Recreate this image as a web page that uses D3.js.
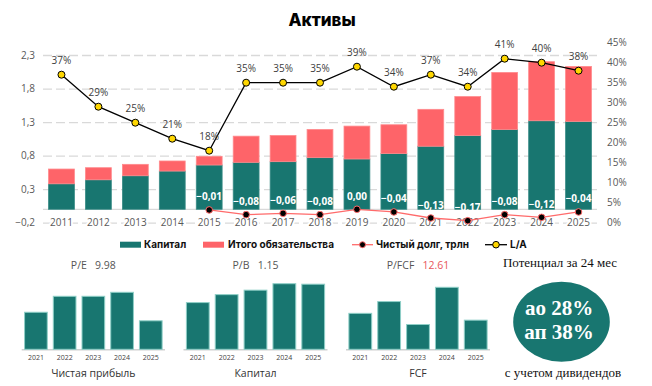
<!DOCTYPE html>
<html><head><meta charset="utf-8">
<script src="https://cdn.jsdelivr.net/npm/d3@7"></script>
<style>
body{margin:0;background:#fff;}
svg{display:block;}
</style></head>
<body>
<svg id="c" width="652" height="386"></svg>
<script>
// ---- data ----
const years = ["2011","2012","2013","2014","2015","2016","2017","2018","2019","2020","2021","2022","2023","2024","2025"];
const capital = [0.38,0.44,0.50,0.57,0.66,0.70,0.71,0.77,0.75,0.83,0.94,1.10,1.19,1.32,1.31];
const liabilities = [0.22,0.18,0.17,0.15,0.13,0.39,0.39,0.42,0.49,0.43,0.55,0.58,0.85,0.88,0.82];
const netDebtYears = ["2015","2016","2017","2018","2019","2020","2021","2022","2023","2024","2025"];
const netDebt = [-0.01,-0.08,-0.06,-0.08,0.00,-0.04,-0.13,-0.17,-0.08,-0.12,-0.04];
const la = [0.37,0.29,0.25,0.21,0.18,0.35,0.35,0.35,0.39,0.34,0.37,0.34,0.41,0.40,0.38];
const leftTicks = [-0.2,0.3,0.8,1.3,1.8,2.3];
const rightTicks = [0,0.05,0.10,0.15,0.20,0.25,0.30,0.35,0.40,0.45];

const smallYears = ["2021","2022","2023","2024","2025"];
const profitSmall = [6.5,9.3,9.3,10.0,5.0];
const capitalSmall = [0.94,1.10,1.19,1.32,1.31];
const fcfSmall = [5.8,7.7,4.0,10.0,4.7];

const TEAL = "#187670", RED = "#fe6469";
const svg = d3.select("#c");
const fmtL = v => d3.format(".1f")(v).replace(".", ",");
const fmtD = v => d3.format(".2f")(v).replace(".", ",");

// title
svg.append("text").attr("x",322).attr("y",26).attr("text-anchor","middle")
  .attr("font-family","Inter").attr("font-weight",800).attr("font-size",17).attr("fill","#000").text("Активы");

// ---- main chart scales ----
const x = d3.scaleBand().domain(years).range([43,597]).paddingInner(0.3).paddingOuter(0.15);
const yL = d3.scaleLinear().domain([-0.2,2.3]).range([222.7,55]);
const yR = d3.scaleLinear().domain([0,0.45]).range([222.7,42.7]);

const axFont = "Open Sans";
// left axis + grid
const gL = svg.append("g").attr("transform","translate(43,0)")
  .call(d3.axisLeft(yL).tickValues(leftTicks).tickSize(-554).tickPadding(8).tickFormat(fmtL));
gL.select(".domain").remove();
gL.selectAll("line").attr("stroke","#d9d9d9").attr("stroke-width",1.3).attr("stroke-dasharray","9,4");
gL.selectAll("text").attr("font-family",axFont).attr("font-size",10).attr("fill","#595959");

// right axis
const gR = svg.append("g").attr("transform","translate(597,0)")
  .call(d3.axisRight(yR).tickValues(rightTicks).tickSize(0).tickPadding(10).tickFormat(d3.format(".0%")));
gR.select(".domain").remove();
gR.selectAll("text").attr("font-family",axFont).attr("font-size",10).attr("fill","#595959");

// zero line
svg.append("line").attr("x1",43).attr("x2",597).attr("y1",yL(0)).attr("y2",yL(0))
  .attr("stroke","#d9d9d9").attr("stroke-width",1.3);

// stacked bars
const stackData = years.map((y,i)=>({year:y, cap:capital[i], lia:liabilities[i]}));
const stack = d3.stack().keys(["cap","lia"])(stackData);
const colors = {cap:TEAL, lia:RED};
const strokes = {cap:"#3a8c87", lia:"#ff8a8d"};
stack.forEach(layer=>{
  svg.append("g").selectAll("rect").data(layer).join("rect")
    .attr("x",d=>x(d.data.year)).attr("width",x.bandwidth())
    .attr("y",d=>yL(d[1])).attr("height",d=>yL(d[0])-yL(d[1]))
    .attr("fill",colors[layer.key]).attr("stroke",strokes[layer.key]).attr("stroke-width",0.8);
});

// bottom axis
const gB = svg.append("g").attr("transform",`translate(0,${yL(-0.2)})`)
  .call(d3.axisBottom(x).tickSize(0).tickPadding(0));
gB.select(".domain").remove();
gB.selectAll("text").attr("y",0).attr("dy","0.35em").attr("font-family",axFont).attr("font-size",10)
  .attr("fill","#595959").attr("stroke","#fff").attr("stroke-width",4).attr("paint-order","stroke");

// net debt line
const cx = d => x(d)+x.bandwidth()/2;
const nd = netDebtYears.map((y,i)=>({y, v:netDebt[i]}));
svg.append("path").datum(nd)
  .attr("d",d3.line().x(d=>cx(d.y)).y(d=>yL(d.v)))
  .attr("fill","none").attr("stroke","#ff6b6b").attr("stroke-width",1.3);
svg.append("g").selectAll("circle").data(nd).join("circle")
  .attr("cx",d=>cx(d.y)).attr("cy",d=>yL(d.v)).attr("r",3.3)
  .attr("fill","#000").attr("stroke","#ff6b6b").attr("stroke-width",1);
svg.append("g").selectAll("text").data(nd).join("text")
  .attr("x",d=>cx(d.y)).attr("y",d=>yL(d.v)-13).attr("dy","0.35em").attr("text-anchor","middle")
  .attr("font-family",axFont).attr("font-weight",700).attr("font-size",10).attr("fill","#fff")
  .text(d=>fmtD(d.v));

// L/A line
const lad = years.map((y,i)=>({y, v:la[i]}));
svg.append("path").datum(lad)
  .attr("d",d3.line().x(d=>cx(d.y)).y(d=>yR(d.v)))
  .attr("fill","none").attr("stroke","#000").attr("stroke-width",1.3);
svg.append("g").selectAll("circle").data(lad).join("circle")
  .attr("cx",d=>cx(d.y)).attr("cy",d=>yR(d.v)).attr("r",3.5)
  .attr("fill","#ffd700").attr("stroke","#000").attr("stroke-width",1);
svg.append("g").selectAll("text").data(lad).join("text")
  .attr("x",d=>cx(d.y)).attr("y",d=>yR(d.v)-14).attr("dy","0.35em").attr("text-anchor","middle")
  .attr("font-family",axFont).attr("font-size",10).attr("fill","#404040")
  .text(d=>d3.format(".0%")(d.v));

// legend
const lgY = 244.7;
const lg = svg.append("g").attr("font-family","Inter").attr("font-weight",700).attr("font-size",10).attr("fill","#111");
lg.append("rect").attr("x",120).attr("y",lgY-3).attr("width",21).attr("height",6).attr("fill",TEAL);
lg.append("text").attr("x",144).attr("y",lgY).attr("dy","0.35em").text("Капитал");
lg.append("rect").attr("x",203).attr("y",lgY-3).attr("width",21).attr("height",6).attr("fill",RED);
lg.append("text").attr("x",228).attr("y",lgY).attr("dy","0.35em").text("Итого обязательства");
lg.append("line").attr("x1",352).attr("x2",373).attr("y1",lgY).attr("y2",lgY).attr("stroke","#ff6b6b").attr("stroke-width",1.3);
lg.append("circle").attr("cx",362.5).attr("cy",lgY).attr("r",3).attr("fill","#000").attr("stroke","#ff6b6b");
lg.append("text").attr("x",376).attr("y",lgY).attr("dy","0.35em").text("Чистый долг, трлн");
lg.append("line").attr("x1",485).attr("x2",507).attr("y1",lgY).attr("y2",lgY).attr("stroke","#000").attr("stroke-width",1.3);
lg.append("circle").attr("cx",496).attr("cy",lgY).attr("r",3.3).attr("fill","#ffd700").attr("stroke","#000");
lg.append("text").attr("x",510).attr("y",lgY).attr("dy","0.35em").text("L/A");

// ---- small charts ----
function small(values, range, topPx, header, headerVal, headerValColor, title){
  const base = 349.3;
  const sx = d3.scaleBand().domain(smallYears).range(range).paddingInner(0.21).paddingOuter(0.1);
  const maxV = d3.max(values);
  const sy = d3.scaleLinear().domain([0,maxV]).range([base, topPx]);
  const g = svg.append("g");
  g.append("line").attr("x1",range[0]).attr("x2",range[1]).attr("y1",base+0.5).attr("y2",base+0.5)
    .attr("stroke","#d0d0d0").attr("stroke-width",1.5);
  g.selectAll("rect").data(values).join("rect")
    .attr("x",(d,i)=>sx(smallYears[i])).attr("width",sx.bandwidth())
    .attr("y",d=>sy(d)).attr("height",d=>base-sy(d))
    .attr("fill",TEAL).attr("stroke","#8fcfc7").attr("stroke-width",1);
  const gx = g.append("g").attr("transform",`translate(0,${base})`).call(d3.axisBottom(sx).tickSize(0).tickPadding(0));
  gx.select(".domain").remove();
  gx.selectAll("text").attr("y",8.4).attr("dy","0.35em").attr("font-family",axFont).attr("font-size",7).attr("fill","#444");
  const mid = (range[0]+range[1])/2;
  const h = g.append("text").attr("x",mid).attr("y",265).attr("dy","0.35em").attr("text-anchor","middle")
    .attr("font-family",axFont).attr("font-size",10.5).attr("fill","#555");
  h.append("tspan").text(header+"\u00a0\u00a0\u00a0");
  h.append("tspan").attr("fill",headerValColor).text(headerVal);
  g.append("text").attr("x",mid).attr("y",373.3).attr("dy","0.35em").attr("text-anchor","middle")
    .attr("font-family",axFont).attr("font-size",10.5).attr("fill","#333").text(title);
}
small(profitSmall,[21.7,165],292.3,"P/E","9.98","#555","Чистая прибыль");
small(capitalSmall,[183.5,327.5],283.7,"P/B","1.15","#555","Капитал");
small(fcfSmall,[346,490],287.3,"P/FCF","12.61","#e8555a","FCF");

// potential circle
const pc = svg.append("g").attr("font-family","Liberation Serif");
pc.append("text").attr("x",560).attr("y",262.7).attr("dy","0.35em").attr("text-anchor","middle")
  .attr("font-size",13).attr("fill","#111").text("Потенциал за 24 мес");
pc.append("ellipse").attr("cx",561.5).attr("cy",321.7).attr("rx",48.3).attr("ry",40).attr("fill",TEAL);
pc.append("text").attr("x",559).attr("y",308).attr("dy","0.35em").attr("text-anchor","middle")
  .attr("font-size",21).attr("font-weight",700).attr("fill","#fff").text("ао 28%");
pc.append("text").attr("x",559).attr("y",332).attr("dy","0.35em").attr("text-anchor","middle")
  .attr("font-size",21).attr("font-weight",700).attr("fill","#fff").text("ап 38%");
pc.append("text").attr("x",563).attr("y",372.7).attr("dy","0.35em").attr("text-anchor","middle")
  .attr("font-size",13).attr("fill","#111").text("с учетом дивидендов");
</script>
</body></html>
